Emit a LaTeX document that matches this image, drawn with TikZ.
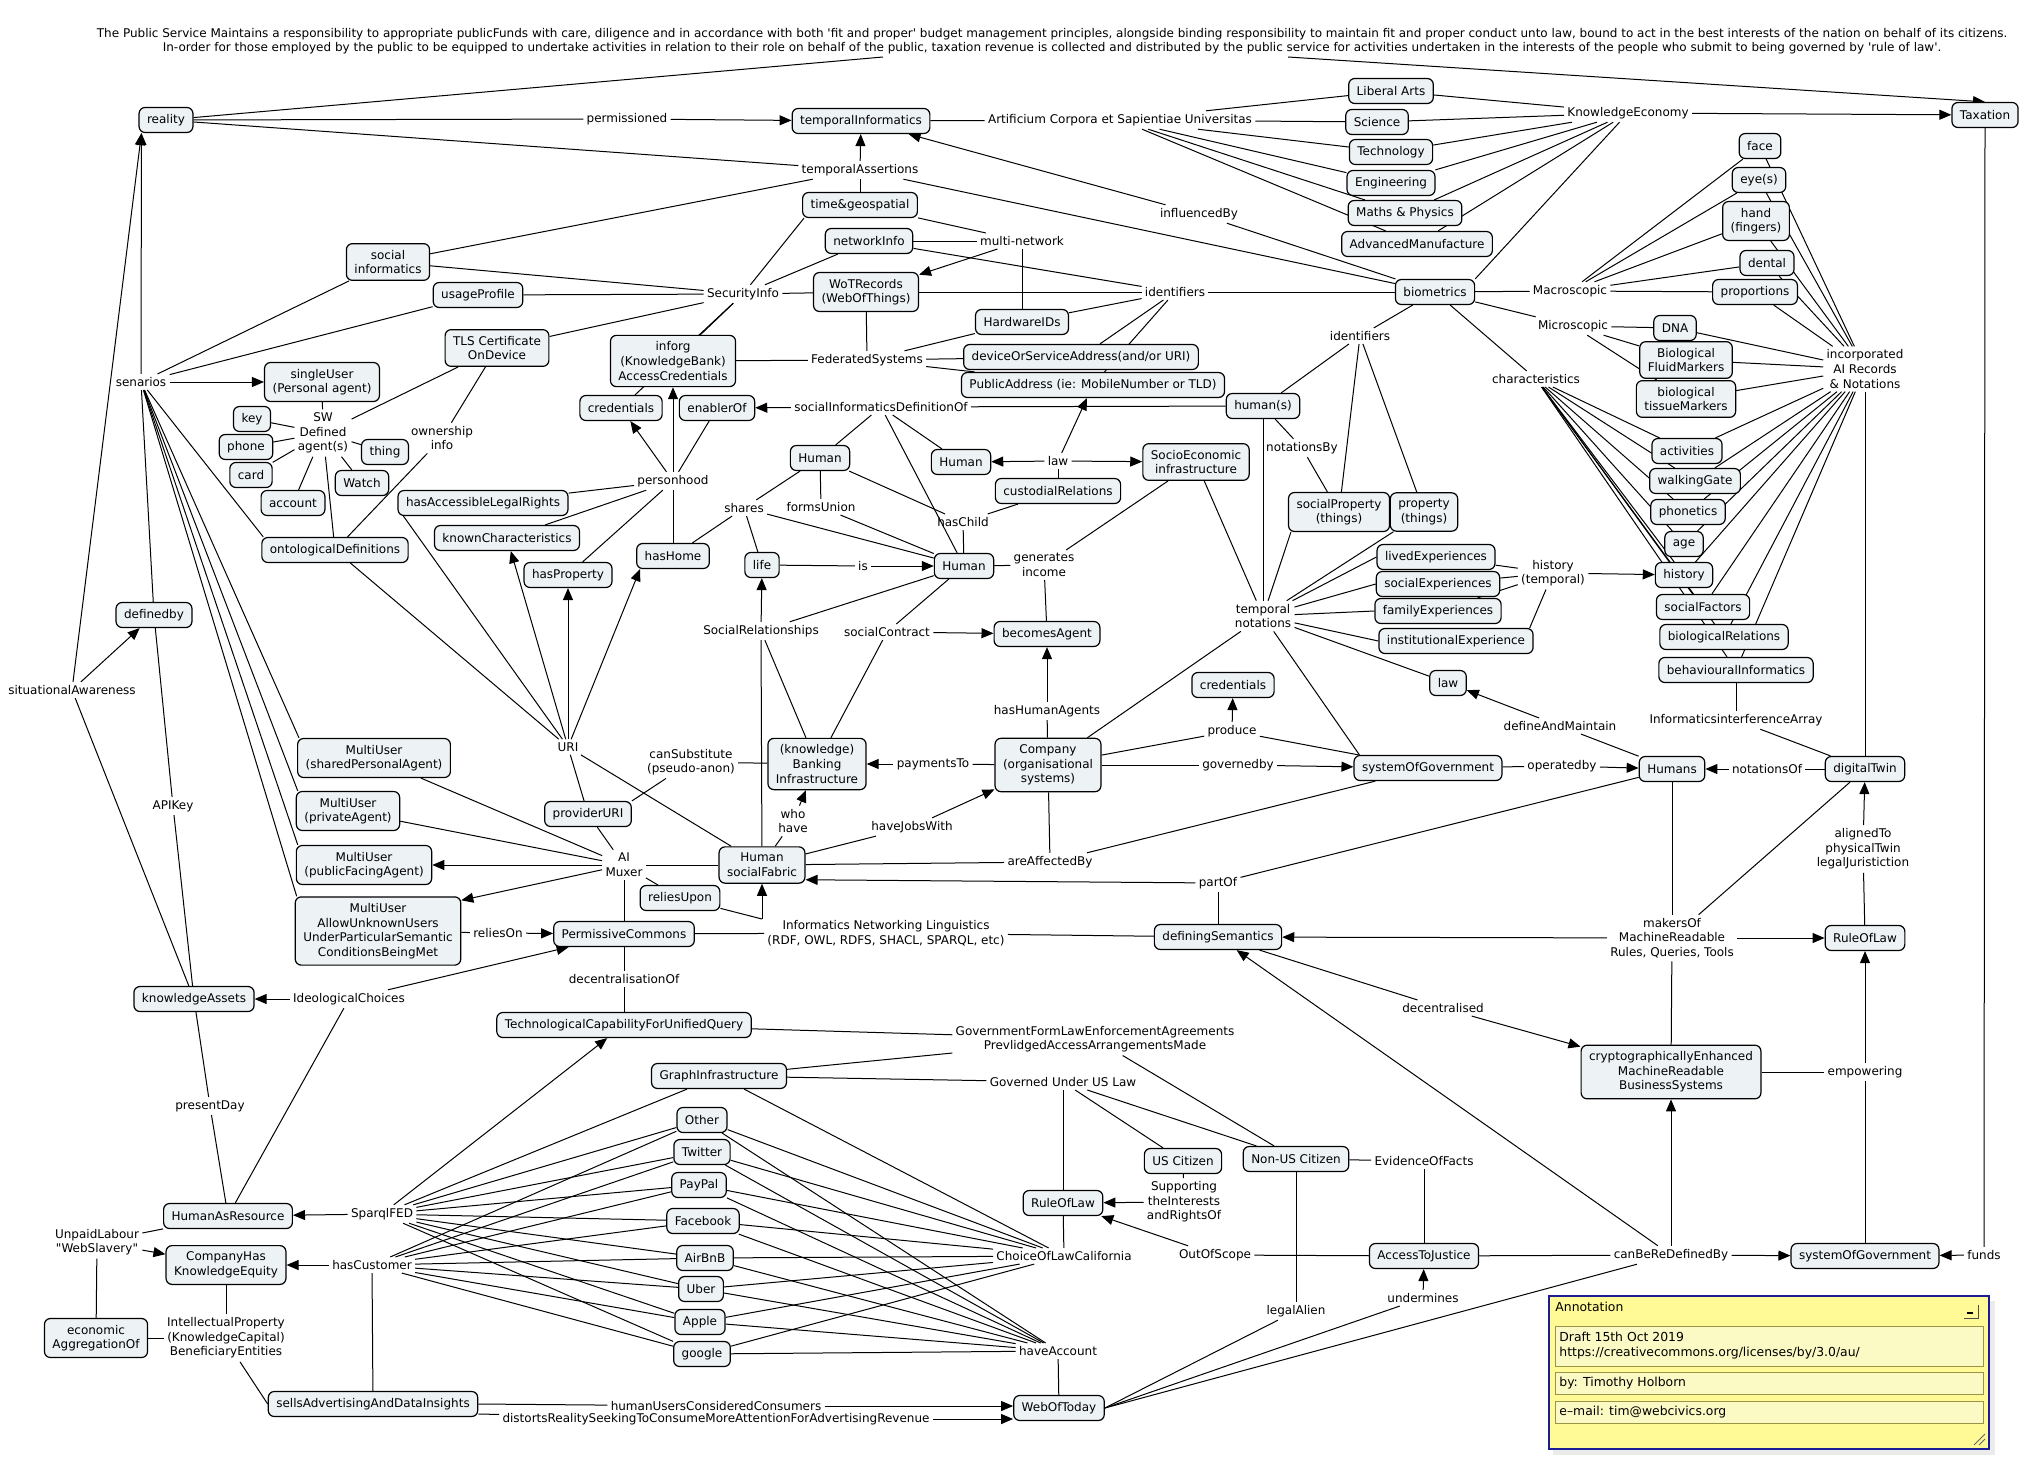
\documentclass[tikz,border=0pt]{standalone}
\usepackage{fontspec}
\newfontfamily\dv{DejaVu Sans}
\usetikzlibrary{arrows.meta,calc,shadows}
\definecolor{nodefill}{RGB}{237,242,245}
\definecolor{annoyellow}{RGB}{255,250,150}
\definecolor{annopanel}{RGB}{252,250,196}
\definecolor{annoborder}{RGB}{28,28,150}
\newcommand\fs{\dv\fontsize{6}{7.3}\selectfont}
\pgfdeclarelayer{edges}
\pgfsetlayers{edges,main}
\begin{document}
\begin{tikzpicture}[x=0.5pt,y=-0.5pt,
 cpt/.style={draw, line width=0.6pt, rounded corners=3pt, fill=nodefill, inner xsep=4pt, inner ysep=3.2pt, minimum height=12.5pt, align=center, font=\fs},
 lbl/.style={inner sep=1.5pt, align=center, font=\fs},
 ln/.style={line width=0.5pt},
 ar/.style={line width=0.5pt, -{Triangle[length=6pt,width=5pt]}},
]
\useasboundingbox (0,0) rectangle (2028,1477);

% ---------- header ----------
\node[lbl, font=\dv\fontsize{6}{7}\selectfont] (header) at (1052,41) {The Public Service Maintains a responsibility to appropriate publicFunds with care, diligence and in accordance with both 'fit and proper' budget management principles, alongside binding responsibility to maintain fit and proper conduct unto law, bound to act in the best interests of the nation on behalf of its citizens.\\In-order for those employed by the public to be equipped to undertake activities in relation to their role on behalf of the public, taxation revenue is collected and distributed by the public service for activities undertaken in the interests of the people who submit to being governed by 'rule of law'.};
\coordinate (hdrL) at (883,57);
\coordinate (hdrR) at (1288,57);

% ---------- concepts ----------
\node[cpt] (reality) at (166,120) {reality};
\node[cpt] (temporalInformatics) at (861,121) {temporalInformatics};
\node[cpt] (Taxation) at (1985,115) {Taxation};
\node[cpt] (LiberalArts) at (1391,91) {Liberal Arts};
\node[cpt] (Science) at (1377,122) {Science};
\node[cpt] (Technology) at (1391,152) {Technology};
\node[cpt] (Engineering) at (1391,183) {Engineering};
\node[cpt] (MathsPhysics) at (1405,213) {Maths \& Physics};
\node[cpt] (AdvancedManufacture) at (1417,244) {AdvancedManufacture};
\node[cpt] (timegeo) at (860,205) {time\&geospatial};
\node[cpt] (networkInfo) at (869,241) {networkInfo};
\node[cpt] (WoTRecords) at (866,292) {WoTRecords\\(WebOfThings)};
\node[cpt] (socialInformatics) at (388,262) {social\\informatics};
\node[cpt] (usageProfile) at (478,295) {usageProfile};
\node[cpt] (TLS) at (497,348) {TLS Certificate\\OnDevice};
\node[cpt] (inforg) at (673,361) {inforg\\(KnowledgeBank)\\AccessCredentials};
\node[cpt] (credA) at (621,408) {credentials};
\node[cpt] (enablerOf) at (717,408) {enablerOf};
\node[cpt] (HardwareIDs) at (1022,322) {HardwareIDs};
\node[cpt] (deviceAddr) at (1081,357) {deviceOrServiceAddress(and/or URI)};
\node[cpt] (PublicAddress) at (1093,385) {PublicAddress (ie: MobileNumber or TLD)};
\node[cpt] (biometrics) at (1435,292) {biometrics};
\node[cpt] (humans_s) at (1263,406) {human(s)};
\node[cpt] (face) at (1760,146) {face};
\node[cpt] (eyes) at (1759,180) {eye(s)};
\node[cpt] (hand) at (1756,221) {hand\\(fingers)};
\node[cpt] (dental) at (1767,263) {dental};
\node[cpt] (proportions) at (1755,292) {proportions};
\node[cpt] (DNA) at (1675,328) {DNA};
\node[cpt] (FluidMarkers) at (1686,360) {Biological\\FluidMarkers};
\node[cpt] (tissueMarkers) at (1686,399) {biological\\tissueMarkers};
\node[cpt] (activities) at (1687,451) {activities};
\node[cpt] (walkingGate) at (1695,481) {walkingGate};
\node[cpt] (phonetics) at (1688,512) {phonetics};
\node[cpt] (age) at (1684,544) {age};
\node[cpt] (history) at (1684,575) {history};
\node[cpt] (socialFactors) at (1703,607) {socialFactors};
\node[cpt] (biologicalRelations) at (1724,637) {biologicalRelations};
\node[cpt] (behaviouralInformatics) at (1736,670) {behaviouralInformatics};
\node[cpt] (singleUser) at (322,382) {singleUser\\(Personal agent)};
\node[cpt] (key) at (252,419) {key};
\node[cpt] (phone) at (246,447) {phone};
\node[cpt] (card) at (251,475) {card};
\node[cpt] (thing) at (385,452) {thing};
\node[cpt] (Watch) at (362,483) {Watch};
\node[cpt] (account) at (293,503) {account};
\node[cpt] (hasALR) at (483,503) {hasAccessibleLegalRights};
\node[cpt] (knownChar) at (507,538) {knownCharacteristics};
\node[cpt] (ontoDef) at (335,550) {ontologicalDefinitions};
\node[cpt] (hasProperty) at (568,575) {hasProperty};
\node[cpt] (hasHome) at (673,556) {hasHome};
\node[cpt] (HumanA) at (820,458) {Human};
\node[cpt] (HumanB) at (961,462) {Human};
\node[cpt] (HumanC) at (964,566) {Human};
\node[cpt] (life) at (762,565) {life};
\node[cpt] (custodial) at (1058,491) {custodialRelations};
\node[cpt] (SocioEco) at (1196,462) {SocioEconomic\\infrastructure};
\node[cpt] (socialProperty) at (1339,512) {socialProperty\\(things)};
\node[cpt] (property) at (1424,512) {property\\(things)};
\node[cpt] (lived) at (1436,557) {livedExperiences};
\node[cpt] (socialExp) at (1438,584) {socialExperiences};
\node[cpt] (familyExp) at (1438,611) {familyExperiences};
\node[cpt] (instExp) at (1456,641) {institutionalExperience};
\node[cpt] (becomesAgent) at (1047,634) {becomesAgent};
\node[cpt] (credB) at (1233,685) {credentials};
\node[cpt] (lawB) at (1448,683) {law};
\node[cpt] (definedby) at (154,615) {definedby};
\node[cpt] (MUshared) at (374,758) {MultiUser\\(sharedPersonalAgent)};
\node[cpt] (MUprivate) at (348,811) {MultiUser\\(privateAgent)};
\node[cpt] (MUpublic) at (364,865) {MultiUser\\(publicFacingAgent)};
\node[cpt] (MUunknown) at (378,931) {MultiUser\\AllowUnknownUsers\\UnderParticularSemantic\\ConditionsBeingMet};
\node[cpt] (Banking) at (817,764) {(knowledge)\\Banking\\Infrastructure};
\node[cpt] (Company) at (1048,765) {Company\\(organisational\\systems)};
\node[cpt] (SoGA) at (1428,768) {systemOfGovernment};
\node[cpt] (Humans) at (1672,769) {Humans};
\node[cpt] (digitalTwin) at (1865,769) {digitalTwin};
\node[cpt] (providerURI) at (588,814) {providerURI};
\node[cpt] (socialFabric) at (762,865) {Human\\socialFabric};
\node[cpt] (reliesUpon) at (680,898) {reliesUpon};
\node[cpt] (PermissiveCommons) at (624,934) {PermissiveCommons};
\node[cpt] (definingSemantics) at (1218,937) {definingSemantics};
\node[cpt] (RuleOfLawR) at (1865,938) {RuleOfLaw};
\node[cpt] (knowledgeAssets) at (194,999) {knowledgeAssets};
\node[cpt] (TCFUQ) at (624,1025) {TechnologicalCapabilityForUnifiedQuery};
\node[cpt] (crypto) at (1671,1072) {cryptographicallyEnhanced\\MachineReadable\\BusinessSystems};
\node[cpt] (GraphInfrastructure) at (719,1076) {GraphInfrastructure};
\node[cpt] (Other) at (702,1120) {Other};
\node[cpt] (Twitter) at (702,1152) {Twitter};
\node[cpt] (PayPal) at (699,1185) {PayPal};
\node[cpt] (Facebook) at (703,1221) {Facebook};
\node[cpt] (AirBnB) at (705,1258) {AirBnB};
\node[cpt] (Uber) at (701,1289) {Uber};
\node[cpt] (Apple) at (700,1322) {Apple};
\node[cpt] (google) at (702,1354) {google};
\node[cpt] (USCitizen) at (1183,1161) {US Citizen};
\node[cpt] (NonUS) at (1296,1159) {Non-US Citizen};
\node[cpt] (RuleOfLawM) at (1063,1203) {RuleOfLaw};
\node[cpt] (HumanAsResource) at (228,1216) {HumanAsResource};
\node[cpt] (CompanyHas) at (226,1265) {CompanyHas\\KnowledgeEquity};
\node[cpt] (AccessToJustice) at (1424,1256) {AccessToJustice};
\node[cpt] (SoGB) at (1865,1256) {systemOfGovernment};
\node[cpt] (economic) at (96,1338) {economic\\AggregationOf};
\node[cpt] (sells) at (373,1404) {sellsAdvertisingAndDataInsights};
\node[cpt] (WebOfToday) at (1059,1408) {WebOfToday};

% ---------- linking phrases ----------
\node[lbl] (permissioned) at (627,119) {permissioned};
\node[lbl] (temporalAssertions) at (860,170) {temporalAssertions};
\node[lbl] (univ) at (1120,120) {Artificium Corpora et Sapientiae Universitas};
\node[lbl] (KnowledgeEconomy) at (1628,113) {KnowledgeEconomy};
\node[lbl] (influencedBy) at (1199,214) {influencedBy};
\node[lbl] (multinetwork) at (1022,241) {multi-network};
\node[lbl] (identA) at (1175,292) {identifiers};
\node[lbl] (SecurityInfo) at (743,294) {SecurityInfo};
\node[lbl] (FederatedSystems) at (867,360) {FederatedSystems};
\node[lbl] (socInfDef) at (881,407) {socialInformaticsDefinitionOf};
\node[lbl] (Macroscopic) at (1570,291) {Macroscopic};
\node[lbl] (Microscopic) at (1573,326) {Microscopic};
\node[lbl] (identB) at (1360,336) {identifiers};
\node[lbl] (incorporated) at (1865,369) {incorporated\\AI Records\\\& Notations};
\node[lbl] (characteristics) at (1536,379) {characteristics};
\node[lbl] (senarios) at (141,382) {senarios};
\node[lbl] (SWDefined) at (323,433) {SW\\Defined\\agent(s)};
\node[lbl] (ownership) at (442,438) {ownership\\info};
\node[lbl] (notationsBy) at (1302,448) {notationsBy};
\node[lbl] (lawA) at (1058,461) {law};
\node[lbl] (personhood) at (673,481) {personhood};
\node[lbl] (shares) at (744,508) {shares};
\node[lbl] (formsUnion) at (821,507) {formsUnion};
\node[lbl] (hasChild) at (963,522) {hasChild};
\node[lbl] (is) at (863,566) {is};
\node[lbl] (genIncome) at (1044,565) {generates\\income};
\node[lbl] (historyT) at (1553,573) {history\\(temporal)};
\node[lbl] (temporalNotations) at (1263,616) {temporal\\notations};
\node[lbl] (SocialRelationships) at (761,631) {SocialRelationships};
\node[lbl] (socialContract) at (887,632) {socialContract};
\node[lbl] (situational) at (72,690) {situationalAwareness};
\node[lbl] (hasHumanAgents) at (1047,711) {hasHumanAgents};
\node[lbl] (InfArray) at (1736,720) {InformaticsinterferenceArray};
\node[lbl] (defineAndMaintain) at (1560,726) {defineAndMaintain};
\node[lbl] (produce) at (1232,731) {produce};
\node[lbl] (URI) at (568,747) {URI};
\node[lbl] (canSubstitute) at (691,762) {canSubstitute\\(pseudo-anon)};
\node[lbl] (paymentsTo) at (933,764) {paymentsTo};
\node[lbl] (governedby) at (1238,765) {governedby};
\node[lbl] (operatedby) at (1562,766) {operatedby};
\node[lbl] (notationsOf) at (1767,769) {notationsOf};
\node[lbl] (APIKey) at (173,806) {APIKey};
\node[lbl] (whohave) at (793,821) {who\\have};
\node[lbl] (haveJobsWith) at (912,827) {haveJobsWith};
\node[lbl] (alignedTo) at (1863,849) {alignedTo\\physicalTwin\\legalJuristiction};
\node[lbl] (areAffectedBy) at (1050,862) {areAffectedBy};
\node[lbl] (AIMuxer) at (624,865) {AI\\Muxer};
\node[lbl] (partOf) at (1218,883) {partOf};
\node[lbl] (reliesOn) at (498,933) {reliesOn};
\node[lbl] (INL) at (886,933) {Informatics Networking Linguistics\\(RDF, OWL, RDFS, SHACL, SPARQL, etc)};
\node[lbl] (makersOf) at (1672,938) {makersOf\\MachineReadable\\Rules, Queries, Tools};
\node[lbl] (decentralisationOf) at (624,979) {decentralisationOf};
\node[lbl] (IdeologicalChoices) at (349,999) {IdeologicalChoices};
\node[lbl] (decentralised) at (1443,1008) {decentralised};
\node[lbl] (GovForm) at (1095,1039) {GovernmentFormLawEnforcementAgreements\\PrevlidgedAccessArrangementsMade};
\node[lbl] (empowering) at (1865,1072) {empowering};
\node[lbl] (GovUS) at (1063,1082) {Governed Under US Law};
\node[lbl] (presentDay) at (210,1106) {presentDay};
\node[lbl] (EvidenceOfFacts) at (1424,1161) {EvidenceOfFacts};
\node[lbl] (Supporting) at (1184,1202) {Supporting\\theInterests\\andRightsOf};
\node[lbl] (SparqlFED) at (382,1214) {SparqlFED};
\node[lbl] (UnpaidLabour) at (97,1242) {UnpaidLabour\\"WebSlavery"};
\node[lbl] (ChoiceOfLaw) at (1064,1256) {ChoiceOfLawCalifornia};
\node[lbl] (OutOfScope) at (1215,1255) {OutOfScope};
\node[lbl] (canBeReDefinedBy) at (1671,1255) {canBeReDefinedBy};
\node[lbl] (funds) at (1984,1255) {funds};
\node[lbl] (hasCustomer) at (372,1265) {hasCustomer};
\node[lbl] (undermines) at (1423,1298) {undermines};
\node[lbl] (legalAlien) at (1296,1311) {legalAlien};
\node[lbl] (IP) at (226,1338) {IntellectualProperty\\(KnowledgeCapital)\\BeneficiaryEntities};
\node[lbl] (haveAccount) at (1058,1351) {haveAccount};
\node[lbl] (humanUsers) at (716,1406) {humanUsersConsideredConsumers};
\node[lbl] (distorts) at (716,1419) {distortsRealitySeekingToConsumeMoreAttentionForAdvertisingRevenue};

% ---------- annotation ----------
\fill[black!8] (1553,1301) rectangle (1995,1455);
\draw[annoborder, line width=1.3pt, fill=annoyellow] (1549,1296) rectangle (1989,1449);
\node[anchor=west, inner sep=0, font=\dv\fontsize{6.2}{7.4}\selectfont] (annoTitle) at (1555,1307) {Annotation};
\draw[line width=0.5pt, black!70] (1964,1318) -- (1978,1318) -- (1978,1305);
\draw[line width=0.6pt] (1967,1313) -- (1973,1313);
\draw[yellow!55!black, line width=0.4pt, fill=annopanel] (1555,1326) rectangle (1983,1366);
\draw[yellow!55!black, line width=0.4pt, fill=annopanel] (1555,1372) rectangle (1983,1394);
\draw[yellow!55!black, line width=0.4pt, fill=annopanel] (1555,1401) rectangle (1983,1423);
\node[anchor=west, inner sep=0, font=\dv\fontsize{6.2}{7.4}\selectfont] (annoA) at (1559,1337) {Draft 15th Oct 2019};
\node[anchor=west, inner sep=0, font=\dv\fontsize{6.2}{7.4}\selectfont] (annoB) at (1559,1353) {https://creativecommons.org/licenses/by/3.0/au/};
\node[anchor=west, inner sep=0, font=\dv\fontsize{6.2}{7.4}\selectfont] (annoC) at (1559,1383) {by: Timothy Holborn};
\node[anchor=west, inner sep=0, font=\dv\fontsize{6.2}{7.4}\selectfont] (annoD) at (1559,1412) {e–mail: tim@webcivics.org};
\draw[black!60, line width=0.4pt] (1974,1445) -- (1985,1434) (1979,1445) -- (1985,1439);

% ---------- connectors ----------
\begin{pgfonlayer}{edges}
\foreach \a/\b in {reality/permissioned, reality/temporalAssertions, socialInformatics/temporalAssertions, timegeo/temporalAssertions, temporalAssertions/biometrics, biometrics/influencedBy, temporalInformatics/univ, univ/LiberalArts, univ/Science, univ/Technology, univ/Engineering, univ/MathsPhysics, univ/AdvancedManufacture, LiberalArts/KnowledgeEconomy, Science/KnowledgeEconomy, Technology/KnowledgeEconomy, Engineering/KnowledgeEconomy, MathsPhysics/KnowledgeEconomy, AdvancedManufacture/KnowledgeEconomy,
 senarios/socialInformatics, senarios/usageProfile, socialInformatics/SecurityInfo, usageProfile/SecurityInfo, TLS/SecurityInfo, networkInfo/SecurityInfo, SecurityInfo/WoTRecords, SecurityInfo/inforg, SecurityInfo/credA, timegeo/multinetwork, networkInfo/multinetwork, multinetwork/HardwareIDs, networkInfo/identA, WoTRecords/identA, identA/HardwareIDs, identA/deviceAddr, identA/PublicAddress, identA/biometrics, WoTRecords/FederatedSystems, inforg/FederatedSystems, FederatedSystems/HardwareIDs, FederatedSystems/deviceAddr, FederatedSystems/PublicAddress,
 personhood/enablerOf, hasALR/personhood, knownChar/personhood, hasProperty/personhood, hasHome/personhood, socInfDef/humans_s, socInfDef/HumanA, socInfDef/HumanB, socInfDef/HumanC,
 lawA/custodial, custodial/hasChild, hasChild/HumanC, HumanA/hasChild, HumanA/shares, shares/hasHome, shares/life, shares/HumanC, HumanA/formsUnion, formsUnion/HumanC, life/is, HumanC/genIncome, genIncome/SocioEco, genIncome/becomesAgent, socialFabric/SocialRelationships, SocialRelationships/HumanC, SocialRelationships/Banking, socialContract/HumanC, socialContract/Banking, Company/hasHumanAgents, Company/paymentsTo, Company/governedby, Company/produce, SoGA/produce, Company/temporalNotations, socialFabric/haveJobsWith, Company/areAffectedBy, socialFabric/areAffectedBy, areAffectedBy/SoGA,
 humans_s/temporalNotations, SocioEco/temporalNotations, property/temporalNotations, humans_s/notationsBy, notationsBy/socialProperty, humans_s/identB, identB/biometrics, identB/socialProperty, identB/property, lived/historyT, socialExp/historyT, familyExp/historyT,
 biometrics/Macroscopic, Macroscopic/face, Macroscopic/eyes, Macroscopic/hand, Macroscopic/dental, Macroscopic/proportions, biometrics/Microscopic, Microscopic/DNA, Microscopic/FluidMarkers, Microscopic/tissueMarkers, biometrics/characteristics,
 incorporated/digitalTwin, behaviouralInformatics/InfArray, InfArray/digitalTwin, digitalTwin/notationsOf, SoGA/operatedby, Humans/defineAndMaintain, Humans/partOf, partOf/definingSemantics, Humans/makersOf, makersOf/digitalTwin, makersOf/crypto, RuleOfLawR/alignedTo, PermissiveCommons/INL, INL/definingSemantics, definingSemantics/decentralised, AccessToJustice/canBeReDefinedBy, crypto/empowering, SoGB/empowering, Taxation/funds,
 OutOfScope/AccessToJustice, EvidenceOfFacts/AccessToJustice, NonUS/EvidenceOfFacts, NonUS/legalAlien, GraphInfrastructure/GovUS, GovUS/RuleOfLawM, GovUS/USCitizen, GovUS/NonUS, USCitizen/Supporting, TCFUQ/GovForm, GraphInfrastructure/GovForm, GovForm/NonUS, RuleOfLawM/ChoiceOfLaw, GraphInfrastructure/ChoiceOfLaw, WebOfToday/haveAccount, SparqlFED/GraphInfrastructure, hasCustomer/sells,
 IdeologicalChoices/HumanAsResource, knowledgeAssets/presentDay, presentDay/HumanAsResource, knowledgeAssets/APIKey, APIKey/definedby, knowledgeAssets/situational, senarios/definedby, singleUser/SWDefined, SWDefined/key, SWDefined/phone, SWDefined/card, SWDefined/thing, SWDefined/Watch, SWDefined/account, SWDefined/ontoDef, SWDefined/TLS, TLS/ownership, ownership/ontoDef, ontoDef/URI, URI/providerURI, URI/socialFabric, providerURI/AIMuxer, canSubstitute/Banking, MUshared/AIMuxer, MUprivate/AIMuxer, AIMuxer/socialFabric, AIMuxer/reliesUpon, AIMuxer/PermissiveCommons, MUunknown/reliesOn, PermissiveCommons/decentralisationOf, decentralisationOf/TCFUQ, socialFabric/whohave, IP/CompanyHas, IP/economic, economic/UnpaidLabour, UnpaidLabour/HumanAsResource}
 \draw[ln] (\a) -- (\b);

\foreach \n in {activities, walkingGate, phonetics, age, history, socialFactors, biologicalRelations, behaviouralInformatics}
 \draw[ln] (characteristics) -- (\n);
\foreach \n in {face, eyes, hand, dental, proportions, DNA, FluidMarkers, tissueMarkers, activities, walkingGate, phonetics, age, history, socialFactors, biologicalRelations, behaviouralInformatics}
 \draw[ln] (\n) -- (incorporated);
\foreach \n in {Other, Twitter, PayPal, Facebook, AirBnB, Uber, Apple, google} {
 \draw[ln] (SparqlFED) -- (\n);
 \draw[ln] (hasCustomer) -- (\n);
 \draw[ln] (\n) -- (ChoiceOfLaw);
 \draw[ln] (\n) -- (haveAccount);
}
\foreach \n in {lived, socialExp, familyExp, instExp}
 \draw[ln] (temporalNotations) -- (\n.west);
\foreach \n in {MUshared, MUprivate, MUpublic, MUunknown}
 \draw[ln] (senarios) -- ([xshift=1pt]\n.north west);
\foreach \n in {legalAlien, undermines, canBeReDefinedBy}
 \draw[ln] (\n) -- (WebOfToday.east);

\foreach \a/\b in {permissioned/temporalInformatics, temporalAssertions/temporalInformatics, influencedBy/temporalInformatics, KnowledgeEconomy/Taxation, multinetwork/WoTRecords, personhood/credA, personhood/inforg, socInfDef/enablerOf, lawA/HumanB, lawA/SocioEco, lawA/PublicAddress, is/HumanC, SocialRelationships/life, socialContract/becomesAgent, hasHumanAgents/becomesAgent, paymentsTo/Banking, governedby/SoGA, produce/credB, haveJobsWith/Company, historyT/history, notationsOf/Humans, operatedby/Humans, defineAndMaintain/lawB, makersOf/RuleOfLawR, makersOf/definingSemantics, alignedTo/digitalTwin, decentralised/crypto, canBeReDefinedBy/definingSemantics, canBeReDefinedBy/crypto, canBeReDefinedBy/SoGB, empowering/RuleOfLawR, funds/SoGB, OutOfScope/RuleOfLawM, undermines/AccessToJustice, Supporting/RuleOfLawM, SparqlFED/TCFUQ, SparqlFED/HumanAsResource, hasCustomer/CompanyHas, IdeologicalChoices/knowledgeAssets, IdeologicalChoices/PermissiveCommons, situational/definedby, senarios/singleUser, URI/knownChar, URI/hasProperty, AIMuxer/MUpublic, reliesOn/PermissiveCommons, whohave/Banking, UnpaidLabour/CompanyHas}
 \draw[ar] (\a) -- (\b);

% special connectors
\draw[ln] (reality) -- (hdrL);
\draw[ar] (hdrR) -- (Taxation.north);
\draw[ln] (KnowledgeEconomy) -- (biometrics.north east);
\draw[ln] (SecurityInfo) -- ([xshift=1pt]timegeo.south west);
\draw[ln] ([xshift=1.5pt]socialProperty.south west) -- (temporalNotations);
\draw[ln] (temporalNotations) -- (lawB);
\draw[ln] (temporalNotations) -- ([xshift=3pt]SoGA.north west);
\draw[ln] ([xshift=-2pt]instExp.north east) -- (historyT);
\draw[ln] (senarios) -- ([xshift=1pt]ontoDef.north west);
\draw[ln] ([xshift=3pt]hasALR.south west) -- (URI);
\draw[ln] (canSubstitute) -- (providerURI.north east);
\draw[ln] ([xshift=7pt]IP.south) -- (sells.west);
\draw[ar] (senarios) -- ([xshift=1.5pt]reality.south west);
\draw[ar] (situational) -- ([xshift=1.5pt]reality.south west);
\draw[ar] (URI) -- ([xshift=2pt]hasHome.south west);
\draw[ar] (AIMuxer) -- ([yshift=-2pt]MUunknown.north east);
\draw[ar] (partOf) -- ([yshift=2pt]socialFabric.south east);
\coordinate (ruK) at (762,919);
\draw[ln] (reliesUpon) -- (ruK);
\draw[ar] (ruK) -- (socialFabric);
\draw[ln] (sells.east) -- (humanUsers);
\draw[ar] (humanUsers) -- (WebOfToday.west |- humanUsers);
\draw[ln] ([yshift=-5pt]sells.east) -- (distorts);
\draw[ar] (distorts) -- (WebOfToday.west |- distorts);
\end{pgfonlayer}
\end{tikzpicture}
\end{document}
